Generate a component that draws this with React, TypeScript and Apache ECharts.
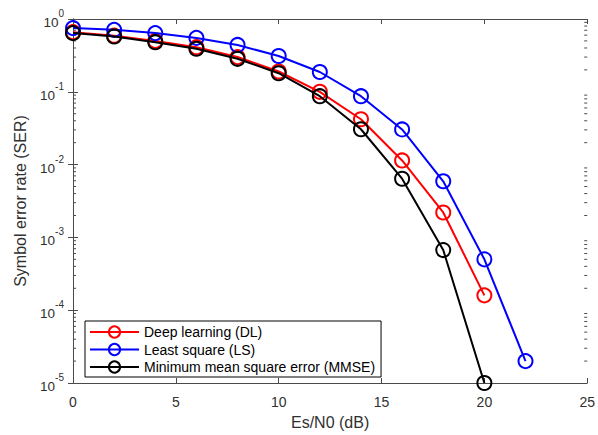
import React, { useEffect, useRef } from "react";
import * as echarts from "echarts";

const snr = [0, 2, 4, 6, 8, 10, 12, 14, 16, 18, 20, 22];
const serDL = [0.66, 0.59, 0.5, 0.41, 0.3, 0.19, 0.1, 0.042, 0.0114, 0.0022, 0.00016];
const serLS = [0.75, 0.71, 0.64, 0.55, 0.44, 0.31, 0.187, 0.087, 0.0304, 0.0059, 0.0005, 0.00002];
const serMMSE = [0.64, 0.575, 0.48, 0.39, 0.284, 0.18, 0.087, 0.0306, 0.0064, 0.00067, 0.00001];
const seriesNames = ["Deep learning (DL)", "Least square (LS)", "Minimum mean square error (MMSE)"];
const xTicks = [0, 5, 10, 15, 20, 25];
const yDecades = [-5, -4, -3, -2, -1, 0];
const minorMantissas = [2, 3, 4, 5, 6, 7, 8, 9];

const AXIS_COLOR = "#4a4a4a";
const LABEL_COLOR = "#303030";
const FONT = "'Liberation Sans', Arial, sans-serif";

export default function App() {
  const ref = useRef<HTMLDivElement>(null);
  useEffect(() => {
    if (!ref.current) return;
    const chart = echarts.init(ref.current, undefined, { renderer: "svg" });
    const pairs = (ys: number[]) => ys.map((y, i) => [snr[i], y]);
    const minorVals: number[] = [];
    for (const d of yDecades.slice(0, -1)) {
      for (const m of minorMantissas) minorVals.push(m * Math.pow(10, d));
    }
    const xMin = xTicks[0];
    const xMax = xTicks[xTicks.length - 1];
    const yMin = Math.pow(10, yDecades[0]);
    const yMax = Math.pow(10, yDecades[yDecades.length - 1]);

    const mkLine = (name: string, data: number[][], color: string, z: number) => ({
      name,
      type: "line",
      data,
      z,
      clip: false,
      symbol: "circle",
      symbolSize: 14,
      showSymbol: true,
      lineStyle: { color, width: 2 },
      itemStyle: { color: "transparent", borderColor: color, borderWidth: 2 },
      emphasis: { disabled: true },
    });

    const yLabel = {
      color: LABEL_COLOR,
      fontFamily: FONT,
      margin: 9,
      formatter: (v: number) => `{b|10}{s|${Math.round(Math.log10(v))}}`,
      rich: {
        b: { fontSize: 13.5, fontFamily: FONT, color: LABEL_COLOR, verticalAlign: "bottom" },
        s: { fontSize: 10, fontFamily: FONT, color: LABEL_COLOR, verticalAlign: "top", lineHeight: 21 },
      },
    };

    chart.setOption({
      animation: false,
      backgroundColor: "#ffffff",
      grid: { left: 73, top: 19, width: 517, height: 369, show: false },
      legend: {
        data: seriesNames,
        orient: "vertical",
        left: 85,
        top: 321,
        itemWidth: 49,
        itemHeight: 14,
        itemGap: 3.5,
        padding: [4, 6, 3, 4],
        borderColor: "#000",
        borderWidth: 1,
        backgroundColor: "#fff",
        textStyle: { fontSize: 14, fontFamily: FONT, color: "#000" },
        selectedMode: false,
      },
      xAxis: [
        {
          type: "value",
          min: xMin,
          max: xMax,
          interval: 5,
          name: "Es/N0 (dB)",
          nameLocation: "middle",
          nameGap: 31,
          nameTextStyle: { fontSize: 16, fontFamily: FONT, color: LABEL_COLOR },
          axisLine: { show: true, lineStyle: { color: AXIS_COLOR, width: 1 } },
          axisTick: { show: true, inside: true, length: 5, lineStyle: { color: AXIS_COLOR } },
          axisLabel: { fontSize: 14, fontFamily: FONT, color: LABEL_COLOR, margin: 12 },
          splitLine: { show: false },
        },
        {
          type: "value",
          position: "top",
          min: xMin,
          max: xMax,
          interval: 5,
          axisLine: { show: true, lineStyle: { color: AXIS_COLOR, width: 1 } },
          axisTick: { show: true, inside: true, length: 5, lineStyle: { color: AXIS_COLOR } },
          axisLabel: { show: false },
          splitLine: { show: false },
        },
      ],
      yAxis: [
        {
          type: "log",
          logBase: 10,
          min: yMin,
          max: yMax,
          name: "Symbol error rate (SER)",
          nameLocation: "middle",
          nameGap: 45,
          nameTextStyle: { fontSize: 16, fontFamily: FONT, color: LABEL_COLOR },
          axisLine: { show: true, lineStyle: { color: AXIS_COLOR, width: 1 } },
          axisTick: { show: true, inside: true, length: 5, lineStyle: { color: AXIS_COLOR } },
          axisLabel: yLabel,
          splitLine: { show: false },
        },
        {
          type: "log",
          logBase: 10,
          min: yMin,
          max: yMax,
          position: "right",
          axisLine: { show: true, lineStyle: { color: AXIS_COLOR, width: 1 } },
          axisTick: { show: true, inside: true, length: 5, lineStyle: { color: AXIS_COLOR } },
          axisLabel: { show: false },
          splitLine: { show: false },
        },
      ],
      series: [
        {
          type: "custom",
          silent: true,
          z: 1,
          data: minorVals.map((v) => [xMin, v]),
          renderItem: (params: any, api: any) => {
            const v = api.value(1);
            const pL = api.coord([xMin, v]);
            const pR = api.coord([xMax, v]);
            const st = { stroke: AXIS_COLOR, lineWidth: 1 };
            return {
              type: "group",
              children: [
                { type: "line", shape: { x1: pL[0], y1: pL[1], x2: pL[0] + 3, y2: pL[1] }, style: st },
                { type: "line", shape: { x1: pR[0], y1: pR[1], x2: pR[0] - 3, y2: pR[1] }, style: st },
              ],
            };
          },
        },
        mkLine(seriesNames[0], pairs(serDL), "#ff0000", 3),
        mkLine(seriesNames[1], pairs(serLS), "#0000ff", 4),
        mkLine(seriesNames[2], pairs(serMMSE), "#000000", 5),
      ],
    });
    return () => chart.dispose();
  }, []);
  return (
    <div
      ref={ref}
      style={{ position: "fixed", left: 0, top: 0, width: 598, height: 435, background: "#fff" }}
    />
  );
}
